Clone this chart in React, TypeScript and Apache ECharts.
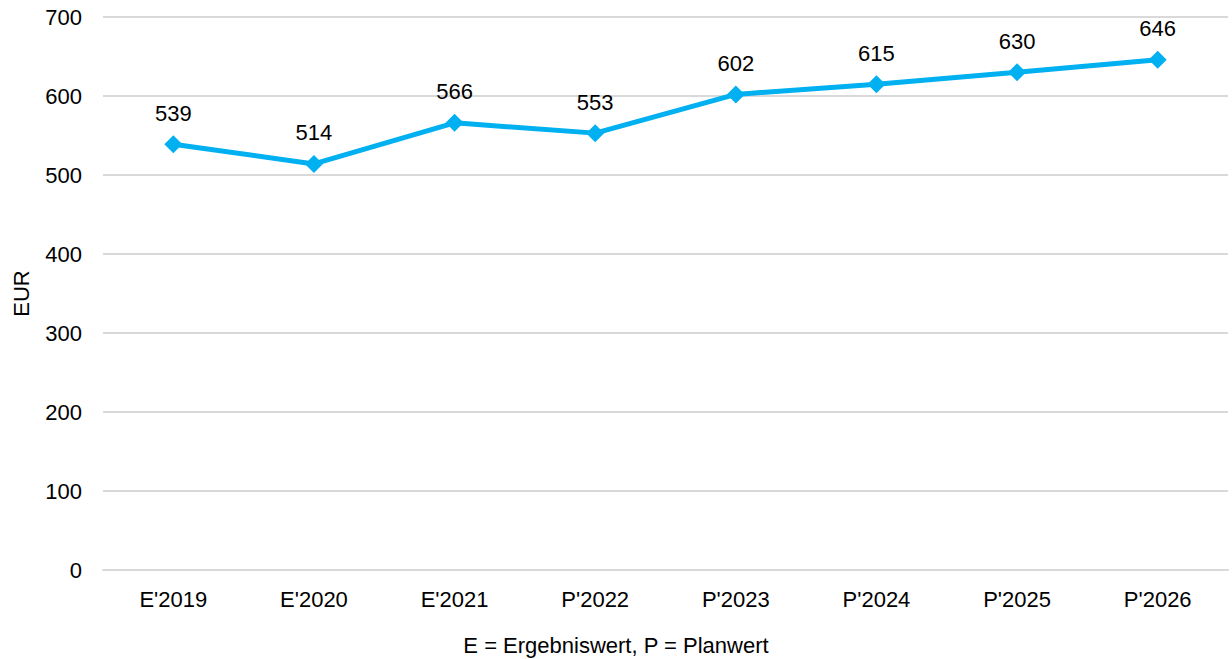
import React, { useEffect, useRef } from "react";
import * as echarts from "echarts";

const categories = ["E'2019", "E'2020", "E'2021", "P'2022", "P'2023", "P'2024", "P'2025", "P'2026"];
const values = [539, 514, 566, 553, 602, 615, 630, 646];
const yAxisName = "EUR";
const xAxisName = "E = Ergebniswert, P = Planwert";

const FONT = "Liberation Sans, Arial, sans-serif";

export default function App() {
  const ref = useRef<HTMLDivElement>(null);
  useEffect(() => {
    if (!ref.current) return;
    const chart = echarts.init(ref.current, undefined, { renderer: "svg" });
    chart.setOption({
      animation: false,
      backgroundColor: "#ffffff",
      grid: { left: 103, right: 4, top: 17, bottom: 89, containLabel: false },
      graphic: [
        {
          type: "text",
          x: 616,
          y: 645,
          style: {
            text: xAxisName,
            fontFamily: FONT,
            fontSize: 22,
            fill: "#000",
            align: "center",
            verticalAlign: "middle",
          },
        },
      ],
      xAxis: {
        type: "category",
        data: categories,
        boundaryGap: true,
        axisLine: { show: true, lineStyle: { color: "#d9d9d9", width: 2 } },
        axisTick: { show: false },
        axisLabel: { fontFamily: FONT, fontSize: 22, color: "#000", margin: 18 },
      },
      yAxis: {
        type: "value",
        min: 0,
        max: 700,
        interval: 100,
        name: yAxisName,
        nameLocation: "middle",
        nameGap: 71,
        nameTextStyle: { fontFamily: FONT, fontSize: 22, color: "#000" },
        axisLine: { show: false },
        axisTick: { show: false },
        axisLabel: { fontFamily: FONT, fontSize: 22, color: "#000", margin: 21 },
        splitLine: { lineStyle: { color: "#d9d9d9", width: 2 } },
      },
      series: [
        {
          type: "line",
          data: values,
          symbol: "diamond",
          symbolSize: 18,
          itemStyle: { color: "#00B0F0" },
          lineStyle: { color: "#00B0F0", width: 5 },
          label: {
            show: true,
            position: "top",
            distance: 11,
            fontFamily: FONT,
            fontSize: 22,
            color: "#000",
          },
        },
      ],
    });
    return () => chart.dispose();
  }, []);
  return (
    <div
      ref={ref}
      style={{ position: "fixed", left: 0, top: 0, width: 1232, height: 659, background: "#fff" }}
    />
  );
}
